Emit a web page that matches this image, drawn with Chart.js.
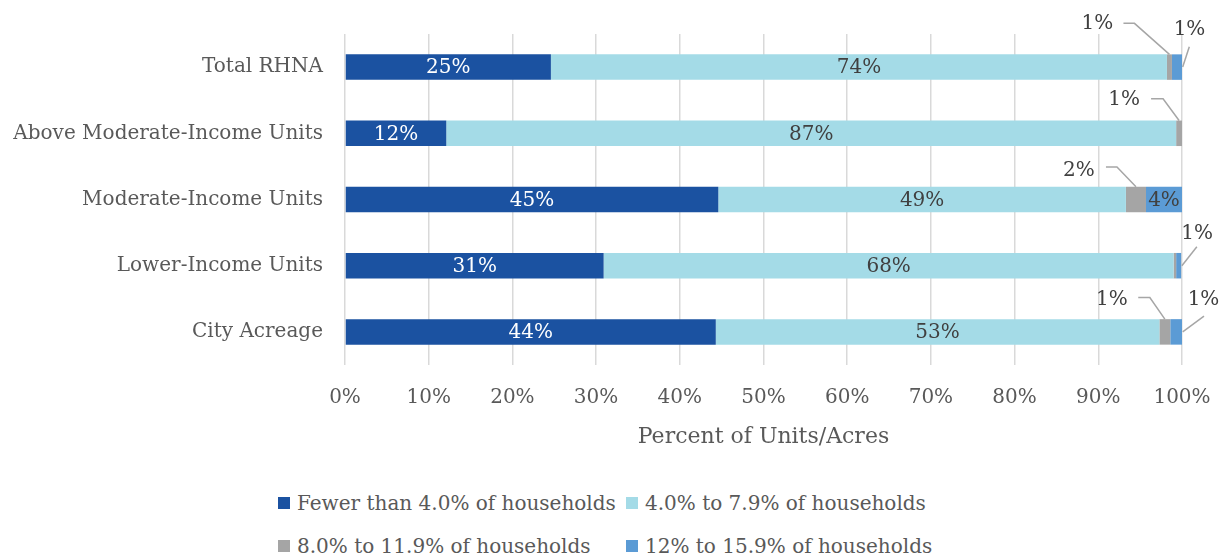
<!DOCTYPE html>
<html>
<head>
<meta charset="utf-8">
<script src="https://cdn.jsdelivr.net/npm/chart.js@4/dist/chart.umd.min.js"></script>
<style>
  html, body { margin: 0; padding: 0; background: #fff; }
  #wrap { position: relative; width: 1221px; height: 556px; overflow: hidden; font-family: "DejaVu Serif", serif; }
  #cv { position: absolute; left: 0; top: 0; }
  .lg { position: absolute; height: 24px; line-height: 24px; font-size: 20px; color: #595959; white-space: nowrap; }
  .lg span.box { position: absolute; left: 0; top: 6px; width: 12px; height: 12px; }
  .lg span.txt { position: absolute; left: 19px; top: 0; }
</style>
</head>
<body>
<div id="wrap">
  <canvas id="cv" width="1221" height="460"></canvas>
  <div id="legend"></div>
</div>
<script>
// ---- data ----
const categories = ['Total RHNA', 'Above Moderate-Income Units', 'Moderate-Income Units', 'Lower-Income Units', 'City Acreage'];
const seriesNames = ['Fewer than 4.0% of households', '4.0% to 7.9% of households', '8.0% to 11.9% of households', '12% to 15.9% of households'];
const fewerThan4 = [24.6, 12.1, 44.6, 30.9, 44.3];
const from4to79 = [73.6, 87.2, 48.7, 68.1, 53.0];
const from8to119 = [0.6, 0.7, 2.4, 0.3, 1.3];
const from12to159 = [1.2, 0.0, 4.3, 0.6, 1.4];
const xTicks = [0, 10, 20, 30, 40, 50, 60, 70, 80, 90, 100];

// ---- styles ----
const colors = ['#1B52A1', '#A4DBE7', '#A5A5A5', '#5B9BD5'];
const insideTextColors = ['#FFFFFF', '#404040', '#404040', '#404040'];
const textColor = '#595959';
const FONT = '"DejaVu Serif", serif';

// callouts: [dataset, category, anchorType, labelDx, labelDy, lineStartDx, lineStartDy, elbowDx]
// anchorType 'top' = top-centre of segment, 'right' = right end middle of segment
const callouts = [
  [2, 0, 'top',   -72, -31, -46, -31, -35],
  [3, 0, 'right',   7.5, -37,  7.3, -20.3, null],
  [2, 1, 'top',   -55, -21, -28, -21.7, -16],
  [2, 2, 'top',   -57, -16, -30, -19.7, -19],
  [3, 3, 'right',  16, -32, 15.7, -19, null],
  [2, 4, 'top',   -53, -19, -26.6, -21.7, -15],
  [3, 4, 'right', 21.5, -32.5, 22, -15.7, null]
];

const allSeries = [fewerThan4, from4to79, from8to119, from12to159];

const labelPlugin = {
  id: 'segLabels',
  afterDatasetsDraw(chart) {
    const ctx = chart.ctx;
    ctx.save();
    ctx.font = '20px ' + FONT;
    ctx.textAlign = 'center';
    ctx.textBaseline = 'middle';
    const isCallout = (d, c) => callouts.some(o => o[0] === d && o[1] === c);
    chart.data.datasets.forEach((ds, d) => {
      const meta = chart.getDatasetMeta(d);
      meta.data.forEach((el, c) => {
        const v = ds.data[c];
        if (isCallout(d, c) || v < 3) return;
        const p = el.getProps(['x', 'base', 'y'], true);
        ctx.fillStyle = insideTextColors[d];
        ctx.fillText(Math.round(v) + '%', (p.x + p.base) / 2, p.y + 1);
      });
    });
    callouts.forEach(o => {
      const [d, c, type, ldx, ldy, sdx, sdy, edx] = o;
      const el = chart.getDatasetMeta(d).data[c];
      const p = el.getProps(['x', 'base', 'y', 'height'], true);
      let ax, ay;
      if (type === 'top') { ax = (p.x + p.base) / 2; ay = p.y - p.height / 2; }
      else { ax = Math.max(p.x, p.base); ay = p.y; }
      ctx.strokeStyle = '#A6A6A6';
      ctx.lineWidth = 1.5;
      ctx.beginPath();
      ctx.moveTo(ax + sdx, ay + sdy);
      if (edx !== null) ctx.lineTo(ax + edx, ay + sdy);
      ctx.lineTo(ax + (type === 'right' ? 0.7 : 0), ay);
      ctx.stroke();
      ctx.fillStyle = '#404040';
      ctx.fillText(Math.round(chart.data.datasets[d].data[c]) + '%', ax + ldx, ay + ldy);
    });
    ctx.restore();
  }
};

new Chart(document.getElementById('cv'), {
  type: 'bar',
  data: {
    labels: categories,
    datasets: allSeries.map((s, i) => ({
      label: seriesNames[i],
      data: s,
      backgroundColor: colors[i],
      borderWidth: 0,
      categoryPercentage: 1.0,
      barPercentage: 0.385
    }))
  },
  options: {
    indexAxis: 'y',
    responsive: false,
    animation: false,
    layout: { padding: { top: 33, right: 39, left: 0, bottom: 0 } },
    plugins: { legend: { display: false }, tooltip: { enabled: false } },
    scales: {
      x: {
        stacked: true,
        min: 0, max: 100,
        afterBuildTicks: s => { s.ticks = xTicks.map(v => ({ value: v })); },
        afterFit: s => { s.height = 95; s.paddingLeft = 0; s.paddingRight = 0; },
        grid: { color: '#D9D9D9', lineWidth: 1.5, drawTicks: false },
        border: { display: false },
        ticks: { color: textColor, font: { family: FONT, size: 20 }, padding: 21, callback: v => v + '%' },
        title: { display: true, text: 'Percent of Units/Acres', color: textColor, font: { family: FONT, size: 22 }, padding: { top: 0, bottom: 10 } }
      },
      y: {
        stacked: true,
        afterFit: s => { s.width = 345; },
        grid: { display: false, drawTicks: false },
        border: { display: false },
        ticks: { color: textColor, font: { family: FONT, size: 20 }, padding: 22 }
      }
    }
  },
  plugins: [labelPlugin]
});

// HTML legend (two columns)
const legendPos = [[278, 491], [626, 491], [278, 534], [626, 534]];
const lg = document.getElementById('legend');
seriesNames.forEach((n, i) => {
  const d = document.createElement('div');
  d.className = 'lg';
  d.style.left = legendPos[i][0] + 'px';
  d.style.top = legendPos[i][1] + 'px';
  d.innerHTML = '<span class="box" style="background:' + colors[i] + '"></span><span class="txt"></span>';
  d.querySelector('.txt').textContent = n;
  lg.appendChild(d);
});
</script>
</body>
</html>
